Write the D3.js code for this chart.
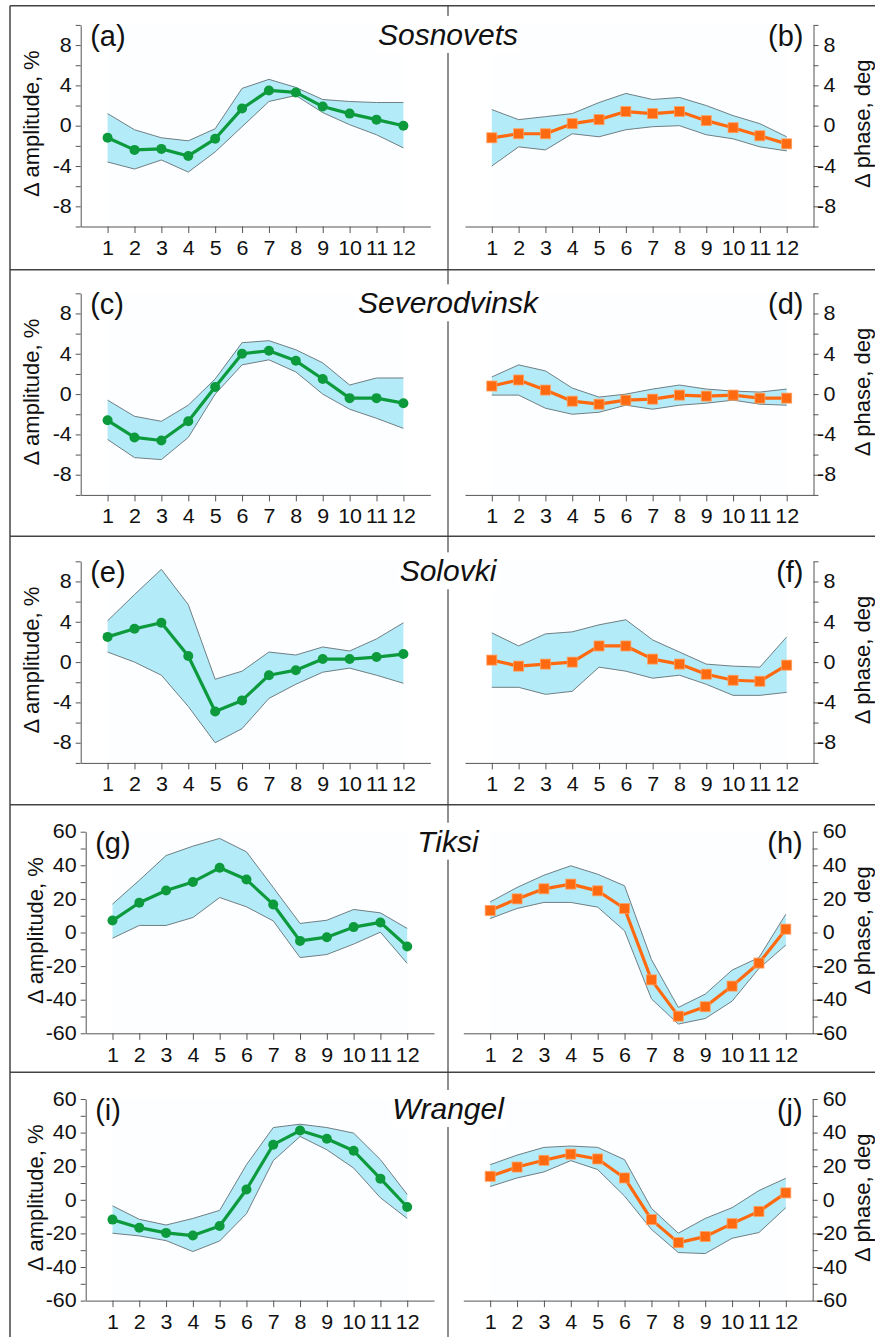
<!DOCTYPE html>
<html>
<head>
<meta charset="utf-8">
<script src="https://cdn.jsdelivr.net/npm/d3@7"></script>
<style>
  body { margin: 0; background: #fff; }
  svg { display: block; font-family: Arial, "Liberation Sans", sans-serif; }
</style>
</head>
<body>
<div id="chart"></div>
<script>
// months on the x axis
const months = [1, 2, 3, 4, 5, 6, 7, 8, 9, 10, 11, 12];
const stations = ["Sosnovets", "Severodvinsk", "Solovki", "Tiksi", "Wrangel"];
const leftLetters = ["(a)", "(c)", "(e)", "(g)", "(i)"];
const rightLetters = ["(b)", "(d)", "(f)", "(h)", "(j)"];

// y tick labels: first three stations use +-10, last two +-60
const smallTicks = [-8, -4, 0, 4, 8];
const smallMinor = [-10, -8, -6, -4, -2, 0, 2, 4, 6, 8, 10];
const bigTicks = [-60, -40, -20, 0, 20, 40, 60];
const bigMinor = [-60, -50, -40, -30, -20, -10, 0, 10, 20, 30, 40, 50, 60];

// amplitude change, %, one row per station
const ampMean = [
  [-1.2, -2.4, -2.3, -3.0, -1.3, 1.7, 3.5, 3.3, 1.9, 1.2, 0.6, 0.0],
  [-2.6, -4.3, -4.6, -2.7, 0.7, 4.0, 4.3, 3.3, 1.5, -0.4, -0.4, -0.9],
  [2.5, 3.3, 3.9, 0.6, -4.9, -3.8, -1.3, -0.8, 0.3, 0.3, 0.5, 0.8],
  [7.1, 17.7, 25.0, 30.1, 38.5, 31.5, 16.7, -5.0, -2.8, 3.2, 6.0, -8.3],
  [-11.8, -16.6, -19.7, -21.3, -15.6, 6.1, 32.8, 41.2, 36.3, 29.2, 12.6, -4.3]
];
const ampHigh = [
  [1.2, -0.4, -1.2, -1.5, -0.3, 3.7, 4.6, 3.8, 2.6, 2.4, 2.3, 2.3],
  [-0.6, -2.2, -2.7, -1.1, 1.5, 5.1, 5.3, 4.4, 3.1, 0.9, 1.6, 1.6],
  [4.1, 6.7, 9.2, 5.7, -1.7, -0.9, 1.0, 0.7, 1.5, 1.1, 2.3, 3.9],
  [16.9, 31.1, 45.8, 51.4, 56.0, 48.0, 26.8, 5.4, 7.3, 13.7, 11.7, 2.4],
  [-3.6, -11.6, -15.0, -11.1, -6.3, 20.9, 43.0, 45.0, 43.0, 39.7, 23.9, 3.2]
];
const ampLow = [
  [-3.6, -4.3, -3.4, -4.6, -2.6, -0.1, 2.4, 3.0, 1.3, 0.1, -0.9, -2.2],
  [-4.5, -6.3, -6.5, -4.3, 0.0, 2.9, 3.4, 2.2, 0.0, -1.5, -2.4, -3.4],
  [1.0, 0.0, -1.3, -4.4, -8.0, -6.6, -3.6, -2.2, -1.0, -0.6, -1.3, -2.1],
  [-3.4, 4.2, 4.2, 8.9, 20.8, 15.3, 6.9, -14.9, -13.1, -6.9, 0.2, -18.4],
  [-19.9, -21.5, -24.3, -30.8, -24.5, -8.3, 23.3, 37.7, 29.8, 18.9, 1.2, -11.1]
];

// phase change, deg, one row per station
const phaseMean = [
  [-1.2, -0.8, -0.8, 0.2, 0.6, 1.4, 1.2, 1.4, 0.5, -0.2, -1.0, -1.8],
  [0.8, 1.4, 0.4, -0.7, -1.0, -0.6, -0.5, -0.1, -0.2, -0.1, -0.4, -0.4],
  [0.2, -0.4, -0.2, 0.0, 1.6, 1.6, 0.3, -0.2, -1.2, -1.8, -1.9, -0.3],
  [13.1, 20.0, 26.0, 28.8, 24.8, 14.3, -28.2, -49.8, -44.2, -31.9, -18.2, 2.0],
  [14.0, 19.5, 23.5, 27.2, 24.3, 13.0, -11.8, -25.5, -21.9, -14.2, -6.9, 4.1]
];
const phaseHigh = [
  [1.6, 0.6, 0.9, 1.2, 2.3, 3.2, 2.6, 2.8, 2.0, 1.0, 0.2, -1.1],
  [1.7, 2.9, 2.3, 0.6, -0.3, 0.0, 0.5, 0.9, 0.5, 0.3, 0.2, 0.5],
  [2.9, 1.6, 2.8, 3.0, 3.7, 4.2, 2.2, 1.0, -0.2, -0.4, -0.5, 2.5],
  [18.2, 26.8, 34.1, 39.7, 34.7, 27.8, -16.1, -44.6, -36.7, -22.4, -14.9, 10.9],
  [20.9, 26.6, 31.2, 32.0, 31.2, 23.9, -5.1, -19.9, -11.1, -4.7, 5.5, 12.8]
];
const phaseLow = [
  [-4.0, -2.1, -2.4, -0.8, -1.1, -0.4, -0.1, 0.0, -0.9, -1.3, -2.1, -2.5],
  [-0.1, -0.1, -1.4, -2.0, -1.8, -1.1, -1.5, -1.1, -0.9, -0.6, -1.0, -1.1],
  [-2.5, -2.5, -3.2, -2.9, -0.5, -0.9, -1.6, -1.3, -2.2, -3.3, -3.3, -3.0],
  [8.3, 14.3, 17.9, 17.9, 15.1, 1.0, -39.5, -54.5, -51.2, -40.9, -21.4, -7.5],
  [7.9, 13.0, 16.6, 23.3, 18.0, 2.2, -17.6, -31.4, -32.0, -22.9, -19.5, -4.7]
];

// layout
const width = 875;
const height = 1337;
const rowLines = [5.7, 269.7, 536.3, 804.7, 1072.3];
const axisTop = [24.9, 293.3, 561.3, 831.7, 1099];
const plotH = 201.6;
const midX = 448;

const bandFill = "#b3ebf8";
const bandLine = "#6f7f84";
const axisColor = "#555";
const green = "#0c9a3c";
const orange = "#ff6a10";
const tickFont = 19.5;
const stretch = 1.1; // labels in the original look a bit wide

const svg = d3.select("#chart")
  .append("svg")
  .attr("width", width)
  .attr("height", height);

// outer frame, row separators and the middle divider
const frame = svg.append("g").attr("stroke", "#444").attr("stroke-width", 1.5).attr("fill", "none");
frame.append("line").attr("x1", 10).attr("x2", 10).attr("y1", rowLines[0]).attr("y2", height + 5);
rowLines.forEach(y => {
  frame.append("line").attr("x1", 10).attr("x2", width + 5).attr("y1", y).attr("y2", y);
});
frame.append("line").attr("x1", midX).attr("x2", midX).attr("y1", rowLines[0]).attr("y2", height + 5)
  .attr("stroke-width", 1.2);

function drawPanel(row, side) {
  const big = row >= 3;
  const lim = big ? 60 : 10;
  const top = axisTop[row];
  const xRange = side === "left"
    ? (big ? [85.7, 434] : [80.7, 430.3])
    : (big ? [463.3, 812.7] : [465, 813.5]);

  const x = d3.scaleLinear().domain([0, 13]).range(xRange);
  const y = d3.scaleLinear().domain([-lim, lim]).range([top + plotH, top]);

  const mean = side === "left" ? ampMean[row] : phaseMean[row];
  const hi = side === "left" ? ampHigh[row] : phaseHigh[row];
  const lo = side === "left" ? ampLow[row] : phaseLow[row];
  const major = big ? bigTicks : smallTicks;
  const minor = big ? bigMinor : smallMinor;

  const g = svg.append("g");

  // faint plot background between first and last month
  g.append("rect")
    .attr("x", x(months[0])).attr("width", x(months[11]) - x(months[0]))
    .attr("y", top).attr("height", plotH)
    .attr("fill", "#fcfeff");

  // uncertainty band
  const area = d3.area()
    .x((d, i) => x(months[i]))
    .y0((d, i) => y(lo[i]))
    .y1(d => y(d));
  g.append("path").datum(hi).attr("d", area).attr("fill", bandFill);

  const edge = d3.line().x((d, i) => x(months[i])).y(d => y(d));
  [hi, lo].forEach(arr => {
    g.append("path").datum(arr).attr("d", edge)
      .attr("fill", "none").attr("stroke", bandLine).attr("stroke-width", 1);
  });

  // axes
  const yAxis = (side === "left" ? d3.axisLeft(y) : d3.axisRight(y))
    .tickValues(minor)
    .tickSize(5)
    .tickSizeOuter(0)
    .tickFormat(d => major.includes(d) ? String(d) : "");
  const ya = g.append("g")
    .attr("transform", `translate(${side === "left" ? xRange[0] : xRange[1]},0)`)
    .call(yAxis);

  const xa = g.append("g")
    .attr("transform", `translate(0,${top + plotH})`)
    .call(d3.axisBottom(x).tickValues(months).tickSize(6.5).tickSizeOuter(0).tickPadding(8));

  [ya, xa].forEach(a => {
    a.selectAll("path, line").attr("stroke", axisColor).attr("stroke-width", 1);
    a.selectAll("text").attr("fill", "#111").attr("font-size", tickFont)
      .attr("font-family", "Arial, 'Liberation Sans', sans-serif")
      .attr("transform", `scale(${stretch},1)`);
  });
  if (side === "right") {
    // minus sign hangs to the left of the digits
    ya.selectAll("text").attr("x", d => (d < 0 ? 3.5 : 10) / stretch);
  } else {
    ya.selectAll("text").attr("x", -9 / stretch);
  }

  // mean curve and markers
  const color = side === "left" ? green : orange;
  g.append("path").datum(mean).attr("d", edge)
    .attr("fill", "none").attr("stroke", color).attr("stroke-width", 3.2)
    .attr("stroke-linejoin", "round");

  if (side === "left") {
    g.selectAll(".dot").data(mean).join("circle")
      .attr("cx", (d, i) => x(months[i]))
      .attr("cy", d => y(d))
      .attr("r", 5)
      .attr("fill", green);
  } else {
    g.selectAll(".sq").data(mean).join("rect")
      .attr("x", (d, i) => x(months[i]) - 5)
      .attr("y", d => y(d) - 5)
      .attr("width", 10).attr("height", 10)
      .attr("fill", orange)
      .attr("stroke", "#ffa060").attr("stroke-width", 0.8);
  }

  // panel letter
  g.append("text")
    .attr("x", side === "left" ? xRange[0] + 9.5 : xRange[1] - 10)
    .attr("y", top + 21)
    .attr("text-anchor", side === "left" ? "start" : "end")
    .attr("font-size", 29)
    .attr("fill", "#111")
    .text(side === "left" ? leftLetters[row] : rightLetters[row]);

  // y axis title
  const tx = side === "left" ? (big ? 43 : 38.5) : 870;
  g.append("text")
    .attr("transform", `translate(${tx},${top + plotH / 2 - 2}) rotate(-90)`)
    .attr("text-anchor", "middle")
    .attr("font-size", 22)
    .attr("fill", "#111")
    .text(side === "left" ? "\u0394 amplitude, %" : "\u0394 phase, deg");
}

for (let r = 0; r < stations.length; r++) {
  drawPanel(r, "left");
  drawPanel(r, "right");

  // station name with a white patch over the divider
  const tg = svg.append("g");
  const t = tg.append("text")
    .attr("x", midX)
    .attr("y", axisTop[r] + 20)
    .attr("text-anchor", "middle")
    .attr("font-size", 30)
    .attr("font-style", "italic")
    .attr("fill", "#111")
    .text(stations[r]);
  const b = t.node().getBBox();
  tg.insert("rect", "text")
    .attr("x", b.x - 2).attr("y", b.y - 2)
    .attr("width", b.width + 4).attr("height", b.height + 4)
    .attr("fill", "#fff");
}
</script>
</body>
</html>
